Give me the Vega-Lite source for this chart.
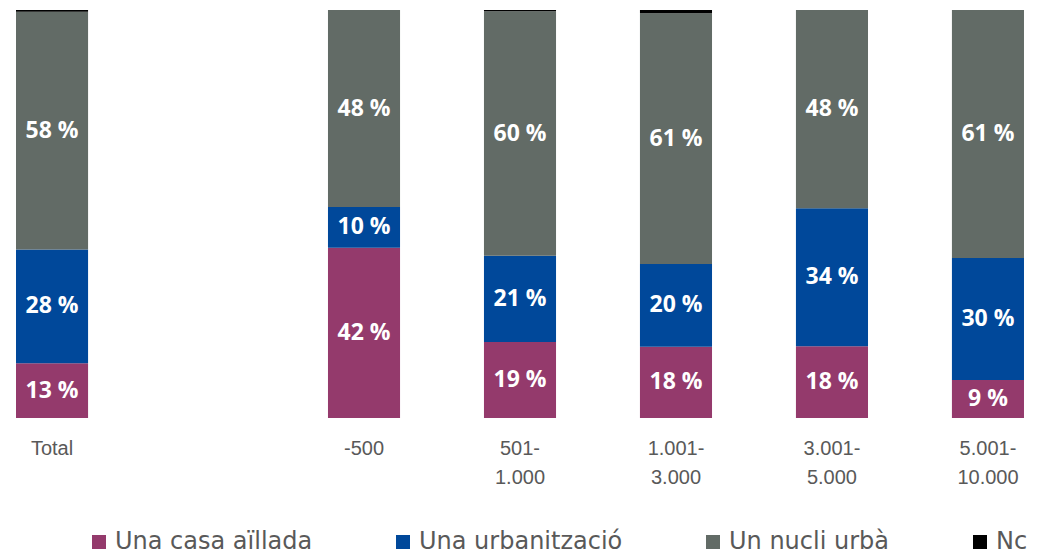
{
  "$schema": "https://vega.github.io/schema/vega-lite/v6.json",
  "width": 1040,
  "height": 408,
  "autosize": {"type": "none"},
  "padding": {"top": 10, "left": 0, "right": 2, "bottom": 141},
  "background": "white",
  "config": {"view": {"stroke": null}},
  "data": {
    "values": [
      {"cat": "Total", "serie": "Una casa aïllada", "ordre": 1, "v": 13.4, "etiqueta": "13 %"},
      {"cat": "Total", "serie": "Una urbanització", "ordre": 2, "v": 27.9, "etiqueta": "28 %"},
      {"cat": "Total", "serie": "Un nucli urbà", "ordre": 3, "v": 58.3, "etiqueta": "58 %"},
      {"cat": "Total", "serie": "Nc", "ordre": 4, "v": 0.4, "etiqueta": ""},
      {"cat": "-500", "serie": "Una casa aïllada", "ordre": 1, "v": 41.7, "etiqueta": "42 %"},
      {"cat": "-500", "serie": "Una urbanització", "ordre": 2, "v": 10.0, "etiqueta": "10 %"},
      {"cat": "-500", "serie": "Un nucli urbà", "ordre": 3, "v": 48.3, "etiqueta": "48 %"},
      {"cat": "-500", "serie": "Nc", "ordre": 4, "v": 0, "etiqueta": ""},
      {"cat": "501-1.000", "serie": "Una casa aïllada", "ordre": 1, "v": 18.6, "etiqueta": "19 %"},
      {"cat": "501-1.000", "serie": "Una urbanització", "ordre": 2, "v": 21.1, "etiqueta": "21 %"},
      {"cat": "501-1.000", "serie": "Un nucli urbà", "ordre": 3, "v": 59.9, "etiqueta": "60 %"},
      {"cat": "501-1.000", "serie": "Nc", "ordre": 4, "v": 0.3, "etiqueta": ""},
      {"cat": "1.001-3.000", "serie": "Una casa aïllada", "ordre": 1, "v": 17.4, "etiqueta": "18 %"},
      {"cat": "1.001-3.000", "serie": "Una urbanització", "ordre": 2, "v": 20.3, "etiqueta": "20 %"},
      {"cat": "1.001-3.000", "serie": "Un nucli urbà", "ordre": 3, "v": 61.3, "etiqueta": "61 %"},
      {"cat": "1.001-3.000", "serie": "Nc", "ordre": 4, "v": 0.8, "etiqueta": ""},
      {"cat": "3.001-5.000", "serie": "Una casa aïllada", "ordre": 1, "v": 17.6, "etiqueta": "18 %"},
      {"cat": "3.001-5.000", "serie": "Una urbanització", "ordre": 2, "v": 33.8, "etiqueta": "34 %"},
      {"cat": "3.001-5.000", "serie": "Un nucli urbà", "ordre": 3, "v": 48.6, "etiqueta": "48 %"},
      {"cat": "3.001-5.000", "serie": "Nc", "ordre": 4, "v": 0, "etiqueta": ""},
      {"cat": "5.001-10.000", "serie": "Una casa aïllada", "ordre": 1, "v": 9.3, "etiqueta": "9 %"},
      {"cat": "5.001-10.000", "serie": "Una urbanització", "ordre": 2, "v": 29.9, "etiqueta": "30 %"},
      {"cat": "5.001-10.000", "serie": "Un nucli urbà", "ordre": 3, "v": 60.8, "etiqueta": "61 %"},
      {"cat": "5.001-10.000", "serie": "Nc", "ordre": 4, "v": 0, "etiqueta": ""}
    ]
  },
  "encoding": {
    "x": {
      "field": "cat",
      "type": "nominal",
      "title": null,
      "scale": {
        "domain": ["Total", " ", "-500", "501-1.000", "1.001-3.000", "3.001-5.000", "5.001-10.000"],
        "paddingInner": 0.538,
        "paddingOuter": 0.1026
      },
      "axis": {
        "ticks": false,
        "domain": false,
        "labelAngle": 0,
        "labelFont": "Liberation Sans",
        "labelFontSize": 20,
        "labelColor": "#595959",
        "labelPadding": 20,
        "labelLineHeight": 29,
        "labelExpr": "indexof(datum.label, '-') > 0 ? [slice(datum.label, 0, indexof(datum.label, '-') + 1), slice(datum.label, indexof(datum.label, '-') + 1)] : datum.label"
      }
    }
  },
  "layer": [
    {
      "mark": {"type": "bar"},
      "encoding": {
        "y": {"field": "v", "type": "quantitative", "stack": "normalize", "axis": null, "scale": {"domain": [0, 1]}},
        "order": {"field": "ordre", "type": "quantitative"},
        "color": {
          "field": "serie",
          "type": "nominal",
          "scale": {
            "domain": ["Una casa aïllada", "Una urbanització", "Un nucli urbà", "Nc"],
            "range": ["#943A6C", "#00489A", "#626B66", "#000000"]
          },
          "legend": {
            "title": null,
            "orient": "none",
            "legendX": 87,
            "legendY": 520,
            "direction": "horizontal",
            "columns": 4,
            "columnPadding": 78,
            "symbolType": "square",
            "symbolSize": 196,
            "symbolStrokeWidth": 0,
            "labelFont": "DejaVu Sans",
            "labelFontSize": 24,
            "labelColor": "#595959",
            "labelOffset": 4,
            "labelLimit": 400,
            "padding": 0
          }
        }
      }
    },
    {
      "mark": {"type": "text", "color": "white", "font": "Open Sans", "fontWeight": "bold", "fontSize": 23, "baseline": "middle"},
      "encoding": {
        "y": {"field": "v", "type": "quantitative", "stack": "normalize", "bandPosition": 0.5},
        "order": {"field": "ordre", "type": "quantitative"},
        "detail": {"field": "serie"},
        "text": {"field": "etiqueta"}
      }
    }
  ]
}
